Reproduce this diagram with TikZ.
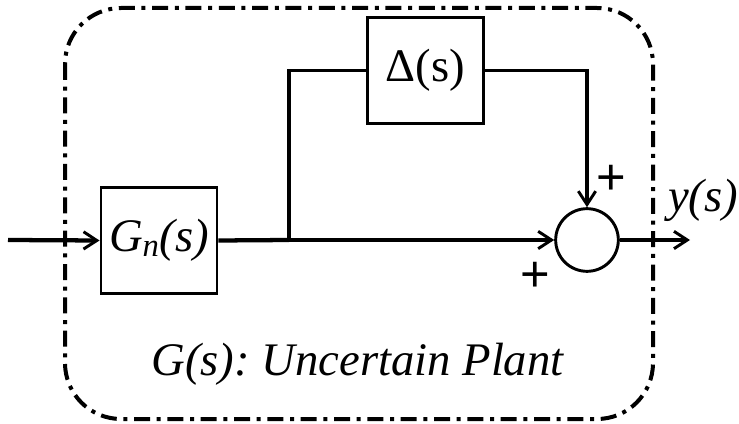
\documentclass[tikz,border=0pt]{standalone}
\usepackage{fontspec}
\setmainfont{Liberation Serif}
\newfontfamily\signfont{Liberation Sans}
\usetikzlibrary{arrows.meta}
\frenchspacing
\begin{document}
\begin{tikzpicture}[x=0.75pt, y=-0.75pt,
    every node/.style={inner sep=0pt, font=\fontsize{35}{40}\selectfont},
    block/.style={draw, line width=2.2pt, minimum width=87pt, minimum height=80pt},
    sumnode/.style={draw, circle, line width=2.2pt, minimum size=47pt},
    tip/.style={-{Straight Barb[length=10pt, width=13pt, line width=2.2pt]}},
    sig/.style={line width=3.2pt, tip},
    link/.style={line width=2.4pt},
    sign/.style={font=\signfont\fontsize{38}{42}\selectfont}]
        \useasboundingbox (0,0) rectangle (739,424);
        \draw[line width=3pt, rounded corners=42pt, dash pattern=on 12pt off 5pt on 3pt off 5pt] (65,8) rectangle (653,419);
        \node[block] (gn) at (159,240.5) {\textit{G\textsubscript{n}(s)}};
        \node[block] (delta) at (425.5,70.5) {Δ(s)};
        \node[sumnode] (sum) at (587,240) {};
        \coordinate (in) at (8,240);
        \coordinate (split) at (289,240);
        \coordinate (out) at (690,240);
        \draw[sig] (in) -- (gn.west);
        \draw[line width=3.2pt] (gn.east) -- (split);
        \draw[sig] (split) -- (sum.west);
        \draw[link] (split) |- (delta.west);
        \draw[link, tip] (delta.east) -| (sum.north);
        \draw[sig] (sum.east) -- (out);
        \node[sign] (ptop) at (611,180) {+};
        \node[sign] (pbot) at (535,277) {+};
        \node[anchor=west] (y) at (668,200) {\textit{y(s)}};
        \node (plant) at (358,364) {\textit{G(s): Uncertain Plant}};
    \end{tikzpicture}
\end{document}
